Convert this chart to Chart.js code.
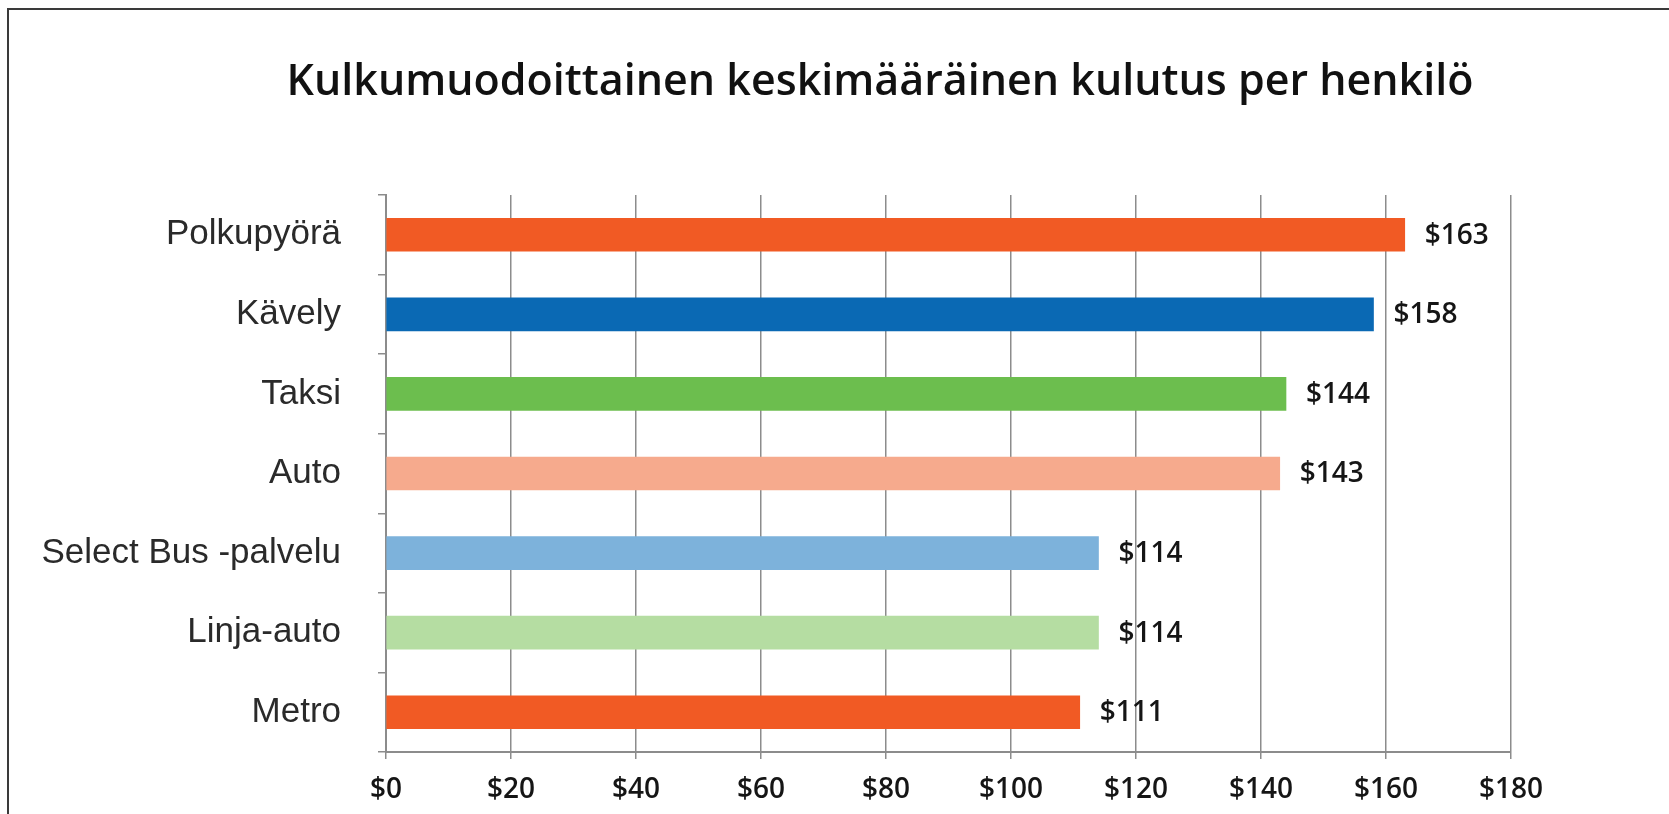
<!DOCTYPE html>
<html>
<head>
<meta charset="utf-8">
<script src="https://cdn.jsdelivr.net/npm/chart.js@4.4.1/dist/chart.umd.min.js"></script>
<style>
  html, body { margin: 0; padding: 0; background: #fff; }
  #wrap { position: relative; width: 1669px; height: 814px; }
  #frame { position: absolute; left: 7px; top: 8px; right: 0; bottom: 0;
           border-top: 2px solid #3a3a3a; border-left: 2px solid #3a3a3a; pointer-events: none; }
  canvas { position: absolute; left: 0; top: 0; }
</style>
</head>
<body>
<div id="wrap">
  <canvas id="c" width="1669" height="814"></canvas>
  <div id="frame"></div>
</div>
<script>
const titleText = "Kulkumuodoittainen keskimääräinen kulutus per henkilö";
const categories = ["Polkupyörä", "Kävely", "Taksi", "Auto", "Select Bus -palvelu", "Linja-auto", "Metro"];
const values = [163, 158, 144, 143, 114, 114, 111];
const barColors = ["#F15A24", "#0A69B4", "#6CBE4E", "#F6AA8D", "#7DB2DB", "#B5DDA2", "#F15A24"];
const xTickMin = 0, xTickMax = 180, xTickStep = 20;

const valueLabels = {
  id: 'valueLabels',
  afterDatasetsDraw(chart) {
    const ctx = chart.ctx;
    const meta = chart.getDatasetMeta(0);
    ctx.save();
    ctx.font = '600 28px "Open Sans"';
    ctx.fillStyle = '#151515';
    ctx.textAlign = 'left';
    ctx.textBaseline = 'middle';
    meta.data.forEach((bar, i) => {
      ctx.fillText('$' + values[i], bar.x + 20, bar.y + 1);
    });
    ctx.restore();
  }
};

const centeredTitle = {
  id: 'centeredTitle',
  afterDraw(chart) {
    const ctx = chart.ctx;
    ctx.save();
    ctx.font = '600 43px "Open Sans"';
    ctx.fillStyle = '#111';
    ctx.textAlign = 'center';
    ctx.textBaseline = 'middle';
    ctx.fillText(titleText, 880, 83);
    ctx.restore();
  }
};

new Chart(document.getElementById('c'), {
  type: 'bar',
  data: {
    labels: categories,
    datasets: [{
      data: values,
      backgroundColor: barColors,
      borderWidth: 0,
      barThickness: 33
    }]
  },
  options: {
    indexAxis: 'y',
    responsive: false,
    animation: false,
    devicePixelRatio: 1,
    layout: { padding: { left: 0, right: 158, top: 195, bottom: 0 } },
    plugins: {
      legend: { display: false },
      tooltip: { enabled: false },
      title: { display: false }
    },
    scales: {
      x: {
        min: xTickMin,
        max: xTickMax,
        ticks: {
          stepSize: xTickStep,
          color: '#151515',
          font: { family: '"Open Sans"', size: 28, weight: '600' },
          padding: 14,
          callback: v => '$' + v
        },
        grid: {
          color: '#8c8c8c',
          lineWidth: 1.5,
          tickLength: 7,
          drawTicks: true
        },
        border: { color: '#8c8c8c', width: 2 },
        afterFit(scale) { scale.height = 62; }
      },
      y: {
        ticks: {
          color: '#2a2a2a',
          font: { family: '"Liberation Sans", Arial', size: 35 },
          padding: 37
        },
        grid: {
          offset: true,
          drawOnChartArea: false,
          drawTicks: true,
          tickLength: 8,
          color: '#8c8c8c',
          lineWidth: 1.5
        },
        border: { color: '#8c8c8c', width: 2 },
        afterFit(scale) { scale.width = 386; }
      }
    }
  },
  plugins: [valueLabels, centeredTitle]
});
</script>
</body>
</html>
